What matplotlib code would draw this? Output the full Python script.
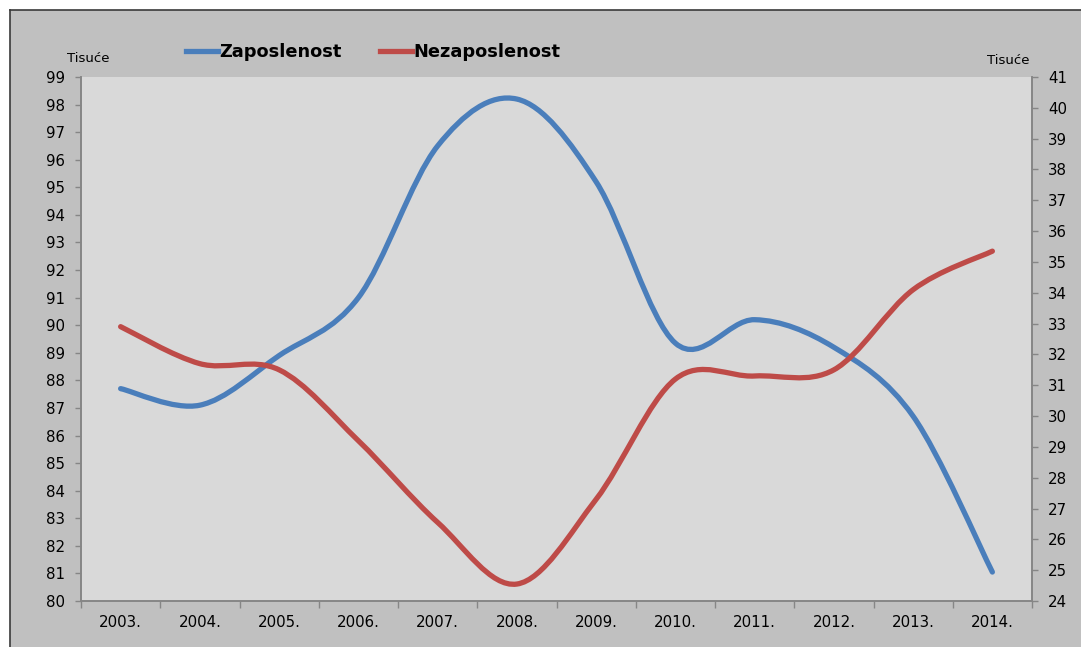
import numpy as np
import matplotlib
matplotlib.use("Agg")
import matplotlib.pyplot as plt
from matplotlib.path import Path
from matplotlib.patches import PathPatch, Rectangle
from matplotlib.lines import Line2D

# the source chart is stretched sideways, DejaVu Sans is wide enough to follow it
plt.rcParams['font.family'] = ['DejaVu Sans']

years = ["2003.", "2004.", "2005.", "2006.", "2007.", "2008.",
         "2009.", "2010.", "2011.", "2012.", "2013.", "2014."]
zaposlenost = [87.7, 87.1, 88.9, 91.0, 96.5, 98.2, 95.2, 89.35, 90.2, 89.2, 86.7, 81.05]
nezaposlenost = [32.9, 31.7, 31.5, 29.2, 26.55, 24.55, 27.3, 31.2, 31.3, 31.5, 34.1, 35.35]

BLUE = "#4a7ebb"
RED = "#be4b48"
AXC = "#868686"
TICKFS = 10.8


def smooth_path(xs, ys):
    # excel-like smoothed line: catmull-rom as cubic bezier
    p = np.column_stack([xs, ys]).astype(float)
    n = len(p)
    verts = [p[0]]
    codes = [Path.MOVETO]
    for i in range(n - 1):
        p0 = p[max(i - 1, 0)]
        p1 = p[i]
        p2 = p[i + 1]
        p3 = p[min(i + 2, n - 1)]
        c1 = p1 + (p2 - p0) / 6
        c2 = p2 - (p3 - p1) / 6
        verts += [c1, c2, p2]
        codes += [Path.CURVE4] * 3
    return Path(verts, codes)


W, H = 1081, 647
fig = plt.figure(figsize=(W / 100, H / 100), dpi=100)
fig.patch.set_facecolor("white")
fig.patches.append(Rectangle((10 / W, 0), 1, (H - 10) / H, transform=fig.transFigure,
                             facecolor="#c0c0c0", edgecolor="none", zorder=-10))
fig.lines.append(Line2D([10 / W, 10 / W], [0, (H - 10) / H], transform=fig.transFigure,
                        color="#3a3a3a", lw=1.2))
fig.lines.append(Line2D([10 / W, 1], [(H - 10) / H, (H - 10) / H], transform=fig.transFigure,
                        color="#3a3a3a", lw=1.2))

ax = fig.add_axes([81 / W, 1 - 601 / H, (1032 - 81) / W, (601 - 77) / H])
ax.set_facecolor("#d9d9d9")
ax2 = ax.twinx()
ax2.patch.set_visible(False)

x = np.arange(len(years))
ax.add_patch(PathPatch(smooth_path(x, zaposlenost), transform=ax.transData,
                       fill=False, edgecolor=BLUE, lw=3.8, capstyle="round", joinstyle="round"))
ax2.add_patch(PathPatch(smooth_path(x, nezaposlenost), transform=ax2.transData,
                        fill=False, edgecolor=RED, lw=3.8, capstyle="round", joinstyle="round"))

ax.set_xlim(-0.5, len(years) - 0.5)
ax.set_ylim(80, 99)
ax2.set_ylim(24, 41)
ax.set_yticks(np.arange(80, 100, 1))
ax2.set_yticks(np.arange(24, 42, 1))

ax.set_xticks(np.arange(-0.5, len(years), 1))
ax.set_xticklabels([])
ax.set_xticks(x, minor=True)
ax.set_xticklabels(years, minor=True)
ax.tick_params(axis="x", which="minor", length=0, pad=10, labelsize=TICKFS)
ax.tick_params(axis="x", which="major", length=5, color=AXC, width=1)
ax.tick_params(axis="y", length=4, color=AXC, width=1, labelsize=TICKFS, pad=7.5)
ax2.tick_params(axis="y", length=4, color=AXC, width=1, labelsize=TICKFS, pad=7.5)

for a in (ax, ax2):
    a.spines["top"].set_visible(False)
    for s in ("left", "right", "bottom"):
        a.spines[s].set_color(AXC)
        a.spines[s].set_linewidth(1.2)

fig.text(88 / W, 1 - 58 / H, "Tisuće", fontsize=9.5, ha="center", va="center")
fig.text(1008 / W, 1 - 60 / H, "Tisuće", fontsize=9.5, ha="center", va="center")

handles = [Line2D([], [], color=BLUE, lw=3.8), Line2D([], [], color=RED, lw=3.8)]
fig.legend(handles, ["Zaposlenost", "Nezaposlenost"], loc="center",
           bbox_to_anchor=(373 / W, 1 - 52 / H), ncol=2, frameon=False,
           handlelength=1.8, handletextpad=0.05, columnspacing=2.2,
           prop={"weight": "bold", "size": 12.8})

fig.savefig("out.png", dpi=100)
